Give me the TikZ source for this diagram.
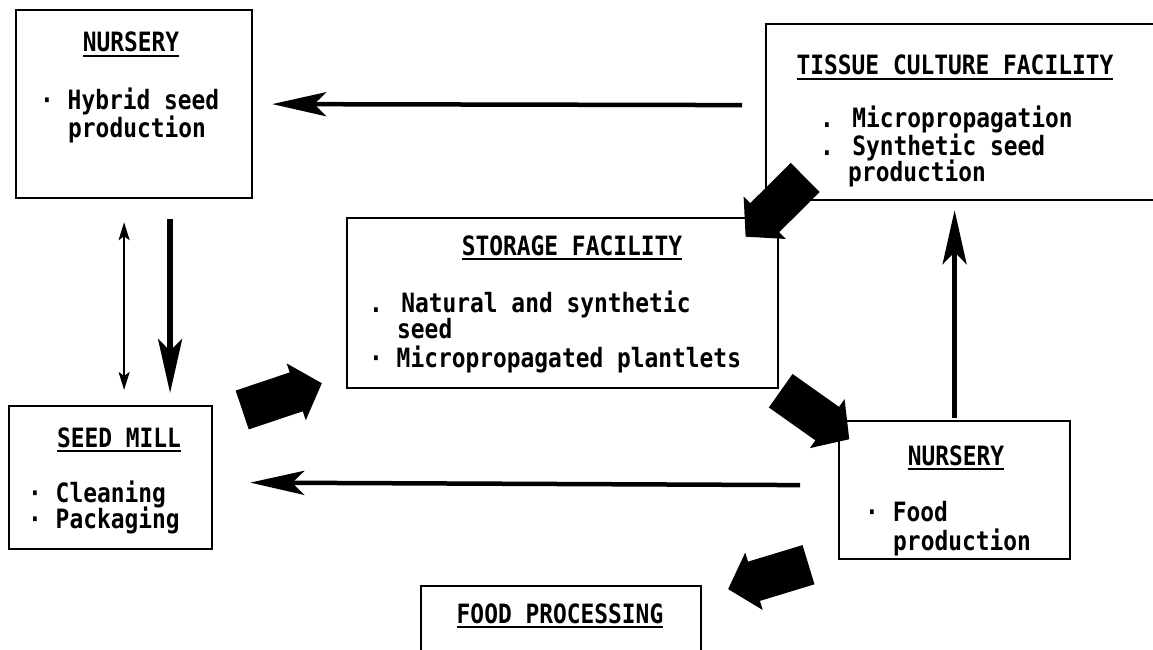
\documentclass[tikz,border=0pt]{standalone}
\usepackage{fontspec}
\newfontfamily\lpfont[FakeStretch=0.86]{DejaVu Sans Mono}
\usetikzlibrary{arrows.meta,calc}
\newlength{\hdgwd}
\newcommand{\hdg}[1]{\settowidth{\hdgwd}{#1}\rlap{#1}\rule[-5pt]{\hdgwd}{2pt}}
\tikzset{
  box/.style={draw, line width=2.2pt, inner sep=0pt, anchor=north west},
  txt/.style={font=\lpfont\bfseries\fontsize{26.6}{27}\selectfont, inner sep=0pt, anchor=base west},
  ttl/.style={txt, anchor=base},
  flow/.style={line width=4.5pt, -{Stealth[length=54pt,width=24pt,inset=12pt]}},
  duo/.style={line width=2pt, {Stealth[length=18pt,width=11pt,inset=4pt]}-{Stealth[length=18pt,width=11pt,inset=4pt]}},
  fatarrow/.pic={\fill (0,-20.5) -- (57,-20.5) -- (57,-30) -- (84,0) -- (57,30) -- (57,20.5) -- (0,20.5) -- cycle;}
}

\begin{document}
\begin{tikzpicture}[x=1pt,y=-1pt]
\path[use as bounding box, fill=white] (0,0) rectangle (1153,650);
\node[box, minimum width=236pt, minimum height=188pt] (nurseryA) at (15,9) {};
\node[box, minimum width=400pt, minimum height=176pt] (tissue) at (765,23) {};
\node[box, minimum width=431pt, minimum height=170pt] (storage) at (346,217) {};
\node[box, minimum width=203pt, minimum height=143pt] (seedmill) at (8,405) {};
\node[box, minimum width=231pt, minimum height=138pt] (nurseryB) at (838,420) {};
\node[box, minimum width=280pt, minimum height=75pt] (foodproc) at (420,585) {};

\node[ttl] (nurseryA-t) at (131,52) {\hdg{NURSERY}};
\node[txt] (nurseryA-1) at (40,110) {· Hybrid seed};
\node[txt] (nurseryA-2) at (68,137) {production};

\node[ttl] (tissue-t) at (955,75) {\hdg{TISSUE CULTURE FACILITY}};
\node[txt] (tissue-1) at (820,128) {. Micropropagation};
\node[txt] (tissue-2) at (820,155) {. Synthetic seed};
\node[txt] (tissue-3) at (848,181) {production};

\node[ttl] (storage-t) at (572,255) {\hdg{STORAGE FACILITY}};
\node[txt] (storage-1) at (369,312) {. Natural and synthetic};
\node[txt] (storage-2) at (397,338) {seed};
\node[txt] (storage-3) at (369,367) {· Micropropagated plantlets};

\node[ttl] (seedmill-t) at (119,447) {\hdg{SEED MILL}};
\node[txt] (seedmill-1) at (28,502) {· Cleaning};
\node[txt] (seedmill-2) at (28,528) {· Packaging};

\node[ttl] (nurseryB-t) at (956,465) {\hdg{NURSERY}};
\node[txt] (nurseryB-1) at (865,521) {· Food};
\node[txt] (nurseryB-2) at (893,550) {production};

\node[ttl] (foodproc-t) at (560,623) {\hdg{FOOD PROCESSING}};

\draw[flow] ($(tissue.west)+(-23,-7)$) -- ($(nurseryA.east)+(19,0)$);
\draw[duo] ($(nurseryA.south)+(-10,23)$) -- ($(nurseryA.south |- seedmill.north)+(-10,-15)$);
\draw[flow, line width=5.5pt] ($(nurseryA.south)+(36,20)$) -- ($(nurseryA.south |- seedmill.north)+(36,-12)$);
\draw[flow] ($(nurseryB.north)+(0,-2)$) -- ($(nurseryB.north |- tissue.south)+(0,9)$);
\draw[flow] ($(nurseryB.west)+(-38,-5)$) -- ($(seedmill.east)+(37,5)$);

\pic[rotate=18.6] at ($(seedmill.north east)+(29,5)$) {fatarrow};
\pic[rotate=-135.2] at ($(storage.north east)+(26,-39.5)$) {fatarrow};
\pic[rotate=-35.3] at ($(storage.south east)+(1.5,1.5)$) {fatarrow};
\pic[rotate=-163.1] at ($(nurseryB.south west)+(-29.5,4.5)$) {fatarrow};
\end{tikzpicture}
\end{document}
